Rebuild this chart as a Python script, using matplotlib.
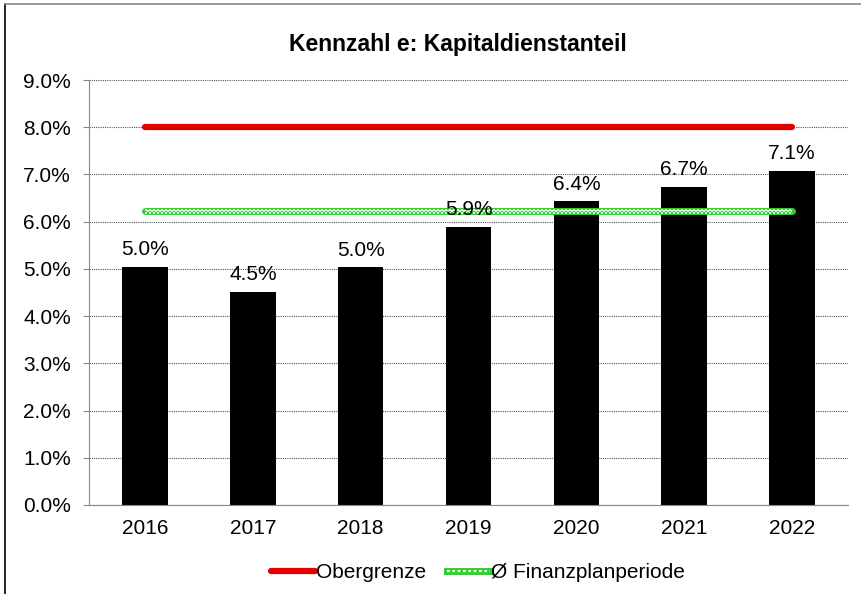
import numpy as np
import matplotlib.pyplot as plt
from matplotlib.lines import Line2D
from matplotlib.legend_handler import HandlerTuple
from matplotlib.ticker import FuncFormatter, MultipleLocator
from matplotlib.transforms import offset_copy

plt.rcParams['font.family'] = ['Liberation Sans', 'DejaVu Sans']

# Kapitaldienstanteil in Prozent
jahre = ['2016', '2017', '2018', '2019', '2020', '2021', '2022']
anteil = [5.04, 4.52, 5.03, 5.89, 6.43, 6.74, 7.08]
obergrenze = 8.0
durchschnitt = 6.22

fig = plt.figure(figsize=(8.61, 5.94), dpi=100)
ax = fig.add_axes([89 / 861, 89 / 594, 759 / 861, 425 / 594])

x = np.arange(len(jahre))
ax.bar(x, anteil, width=0.42, color='black', zorder=2)

for xi, v in zip(x, anteil):
    ax.annotate(f'{v:.1f}%', (xi, v), xytext=(0, 5.5), textcoords='offset points',
                ha='center', va='bottom', fontsize=15, zorder=5)

# Obergrenze
ax.plot(x, [obergrenze] * len(x), color='#e00000', lw=4.5,
        solid_capstyle='round', zorder=3)
# Durchschnitt: grün-weiß kariert
ax.plot(x, [durchschnitt] * len(x), color='#33cc33', lw=5,
        solid_capstyle='round', zorder=3)
for dy, phase in [(-1.2, 0), (0, 1.2), (1.2, 0)]:
    tr = offset_copy(ax.transData, fig=fig, y=dy, units='points')
    ax.plot(x[[0, -1]], [durchschnitt] * 2, color='white', lw=1.2,
            linestyle=(phase, (1.2, 1.2)), transform=tr, zorder=4)

ax.set_xlim(-0.52, len(x) - 0.48)
ax.set_ylim(0, 9)
ax.yaxis.set_major_locator(MultipleLocator(1))
ax.yaxis.set_major_formatter(FuncFormatter(lambda v, p: f'{v:.1f}%'))
ax.set_xticks(x)
ax.set_xticklabels(jahre)
ax.tick_params(axis='x', length=0, labelsize=15, pad=10)
ax.tick_params(axis='y', length=4, color='#888888', labelsize=15, pad=9)
ax.grid(axis='y', color='#555555', linestyle=(0, (1, 1)), lw=0.8, zorder=0)
ax.set_axisbelow(True)
for s in ['top', 'right']:
    ax.spines[s].set_visible(False)
for s in ['left', 'bottom']:
    ax.spines[s].set_color('#888888')

fig.text(458 / 861, 1 - 44 / 594, 'Kennzahl e: Kapitaldienstanteil', ha='center',
         va='center', fontsize=16.5, fontweight='bold')

h_red = Line2D([], [], color='#e00000', lw=4.5, solid_capstyle='round')
h_g1 = Line2D([], [], color='#33cc33', lw=5)
h_g2 = Line2D([], [], color='white', lw=1.6, linestyle=(0, (1.2, 1.2)))
fig.legend([h_red, (h_g1, h_g2)], ['Obergrenze', 'Ø Finanzplanperiode'],
           handler_map={tuple: HandlerTuple(ndivide=1, pad=0)},
           loc='center', bbox_to_anchor=(478 / 861, 1 - 573 / 594), ncol=2,
           frameon=False, fontsize=15, handlelength=2.1, handletextpad=0.05,
           columnspacing=1.0)

# Rahmen des Diagramms
fig.add_artist(Line2D([5 / 861, 5 / 861], [0, 1 - 4 / 594], color='black', lw=1.2))
fig.add_artist(Line2D([5 / 861, 1], [1 - 4 / 594, 1 - 4 / 594], color='#888888', lw=1.2))

fig.savefig('out.png', dpi=100)
